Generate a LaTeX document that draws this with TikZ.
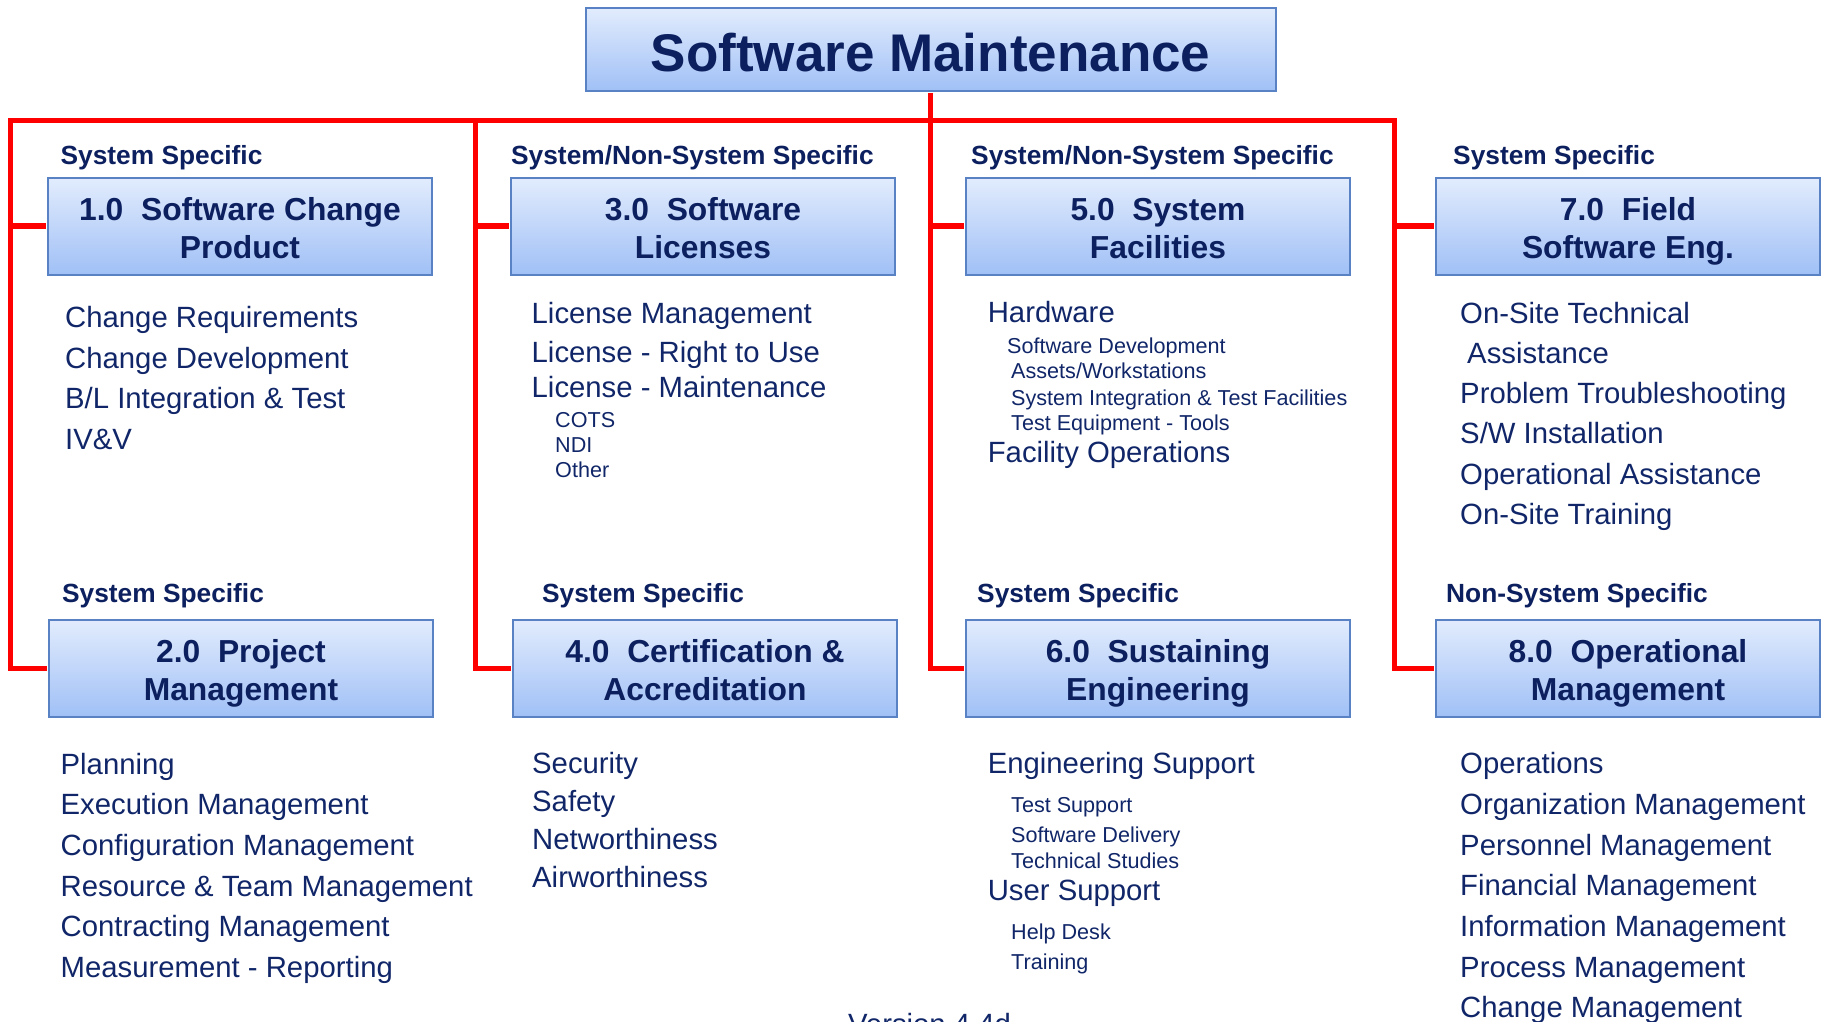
\documentclass[tikz,border=0pt]{standalone}
\usepackage{fontspec}
\setmainfont{Liberation Sans}
\definecolor{navy}{RGB}{12,31,94}
\definecolor{itemc}{RGB}{16,38,104}
\definecolor{bord}{RGB}{88,130,196}
\definecolor{gtop}{RGB}{226,236,253}
\definecolor{gbot}{RGB}{160,192,246}
\newcommand\bxt[2]{\rule{0pt}{25.6pt}#1\\\raisebox{0pt}[\height][0pt]{#2}}
\tikzset{
  rl/.style={draw=red, line width=5.5pt, line join=miter},
  wbox/.style={draw=bord, line width=2.2pt, top color=gtop, bottom color=gbot,
    minimum width=384pt, minimum height=97pt, inner sep=0pt, text=navy, align=center,
    font=\bfseries\fontsize{31.8}{38}\selectfont},
  hdr/.style={anchor=base west, inner sep=0pt, text=navy, font=\bfseries\fontsize{26.3}{30}\selectfont},
  itm/.style={anchor=base west, inner sep=0pt, yshift=-2.2pt, text=itemc, font=\fontsize{29.3}{34}\selectfont},
  sml/.style={anchor=base west, inner sep=0pt, yshift=-2.2pt, text=itemc, font=\fontsize{21.6}{25}\selectfont},
}
\begin{document}
\begin{tikzpicture}[x=1pt,y=-1pt]
\useasboundingbox (0,0) rectangle (1824,1021);
\clip (0,0) rectangle (1824,1021);

% title
\node[wbox, minimum width=690pt, minimum height=83pt, text height=43pt, text depth=0pt,
  font=\bfseries\fontsize{53}{60}\selectfont] (title) at (930.6,49.5) {Software Maintenance};

% boxes
\node[wbox] (b1) at (240,226.2) {\bxt{1.0\ \ Software Change}{Product}};
\node[wbox] (b3) at (703,226.2) {\bxt{3.0\ \ Software}{Licenses}};
\node[wbox] (b5) at (1158,226.2) {\bxt{5.0\ \ System}{Facilities}};
\node[wbox] (b7) at (1628,226.2) {\bxt{7.0\ \ Field}{Software Eng.}};
\node[wbox] (b2) at (241,668.3) {\bxt{2.0\ \ Project}{Management}};
\node[wbox] (b4) at (705,668.3) {\bxt{4.0\ \ Certification \&}{Accreditation}};
\node[wbox] (b6) at (1158,668.3) {\bxt{6.0\ \ Sustaining}{Engineering}};
\node[wbox] (b8) at (1628,668.3) {\bxt{8.0\ \ Operational}{Management}};

% connectors
\coordinate (k1) at (10.5,120.3);
\coordinate (k2) at (475.6,120.3);
\coordinate (k4) at (1394.6,120.3);
\draw[rl, shorten <=1.1pt, shorten >=1.1pt] (b2.west) -| (k1) -- (k4) |- (b8.west);
\draw[rl, shorten <=1.1pt] (b1.west) -- (b1.west -| k1);
\draw[rl, shorten >=1.1pt] (k2) |- (b4.west);
\draw[rl, shorten <=1.1pt] (b3.west) -- (b3.west -| k2);
\draw[rl, shorten <=1.1pt, shorten >=1.1pt] (title.south) |- (b6.west);
\draw[rl, shorten <=1.1pt] (b5.west) -- (b5.west -| title.south);
\draw[rl, shorten <=1.1pt] (b7.west) -- (b7.west -| k4);

% headers
\node[hdr] (h1) at (60.5,164) {System Specific};
\node[hdr] (h3) at (511,164) {System/Non-System Specific};
\node[hdr] (h5) at (971,164) {System/Non-System Specific};
\node[hdr] (h7) at (1453,164) {System Specific};
\node[hdr] (h2) at (62,602.7) {System Specific};
\node[hdr] (h4) at (542,602.7) {System Specific};
\node[hdr] (h6) at (977,602.7) {System Specific};
\node[hdr] (h8) at (1446,602.7) {Non-System Specific};

% column 1 top
\node[itm] (a1) at (65,325.5) {Change Requirements};
\node[itm] (a2) at (65,366) {Change Development};
\node[itm] (a3) at (65,406.5) {B/L Integration \& Test};
\node[itm] (a4) at (65,447) {IV\&V};

% column 2 top
\node[itm] (c1) at (531.5,321.7) {License Management};
\node[itm] (c2) at (531.5,360) {License - Right to Use};
\node[itm] (c3) at (531.5,395) {License - Maintenance};
\node[sml] (c4) at (555,425) {COTS};
\node[sml] (c5) at (555,450.7) {NDI};
\node[sml] (c6) at (555,475.5) {Other};

% column 3 top
\node[itm] (e1) at (987.6,320.7) {Hardware};
\node[sml] (e2) at (1007,351.7) {Software Development};
\node[sml] (e3) at (1011,376.7) {Assets/Workstations};
\node[sml] (e4) at (1011,403) {System Integration \& Test Facilities};
\node[sml] (e5) at (1011,428) {Test Equipment - Tools};
\node[itm] (e6) at (987.6,460.5) {Facility Operations};

% column 4 top
\node[itm] (g1) at (1460,321) {On-Site Technical};
\node[itm] (g2) at (1467,361.2) {Assistance};
\node[itm] (g3) at (1460,401.4) {Problem Troubleshooting};
\node[itm] (g4) at (1460,441.6) {S/W Installation};
\node[itm] (g5) at (1460,481.8) {Operational Assistance};
\node[itm] (g6) at (1460,522) {On-Site Training};

% column 1 bottom
\node[itm] (p1) at (60.5,772) {Planning};
\node[itm] (p2) at (60.5,812.6) {Execution Management};
\node[itm] (p3) at (60.5,853.2) {Configuration Management};
\node[itm] (p4) at (60.5,893.8) {Resource \& Team Management};
\node[itm] (p5) at (60.5,934.4) {Contracting Management};
\node[itm] (p6) at (60.5,975) {Measurement - Reporting};

% column 2 bottom
\node[itm] (s1) at (532,771.5) {Security};
\node[itm] (s2) at (532,809.5) {Safety};
\node[itm] (s3) at (532,847.5) {Networthiness};
\node[itm] (s4) at (532,885.5) {Airworthiness};

% column 3 bottom
\node[itm] (u1) at (987.6,771.7) {Engineering Support};
\node[sml] (u2) at (1011,810.7) {Test Support};
\node[sml] (u3) at (1011,840.7) {Software Delivery};
\node[sml] (u4) at (1011,866) {Technical Studies};
\node[itm] (u5) at (987.6,898.3) {User Support};
\node[sml] (u6) at (1011,937.3) {Help Desk};
\node[sml] (u7) at (1011,967.3) {Training};

% column 4 bottom
\node[itm] (o1) at (1460,771.7) {Operations};
\node[itm] (o2) at (1460,812.3) {Organization Management};
\node[itm] (o3) at (1460,853) {Personnel Management};
\node[itm] (o4) at (1460,893.6) {Financial Management};
\node[itm] (o5) at (1460,934.2) {Information Management};
\node[itm] (o6) at (1460,974.8) {Process Management};
\node[itm] (o7) at (1460,1015.4) {Change Management};

% version
\node[anchor=base, inner sep=0pt, text=itemc, font=\fontsize{29.3}{34}\selectfont] (ver) at (929.5,1034) {Version 4.4d};
\end{tikzpicture}
\end{document}
